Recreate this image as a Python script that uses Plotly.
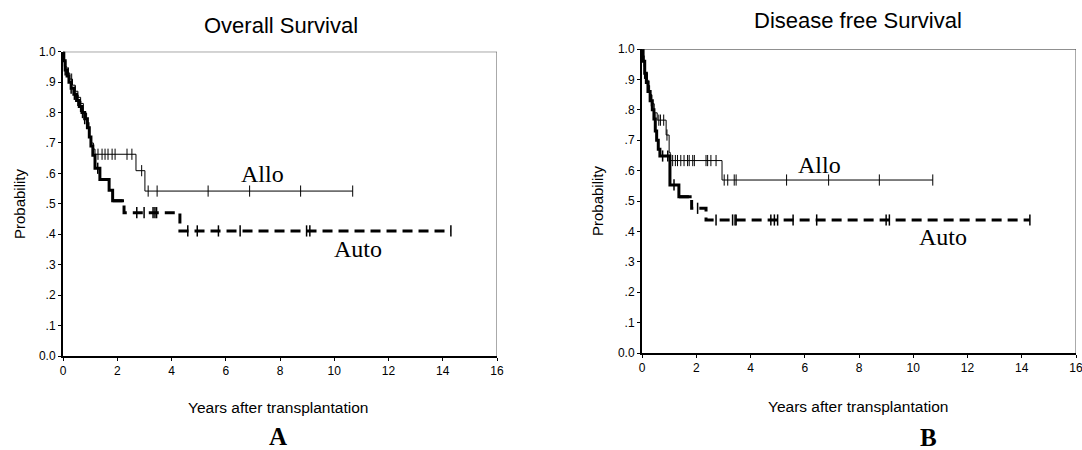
import plotly.graph_objects as go

# ---------------- data ----------------
# Panel A: Overall survival
a_allo_t = [0, 0.05, 0.10, 0.15, 0.25, 0.35, 0.45, 0.55, 0.65, 0.75, 0.85, 0.90, 0.95, 1.05, 1.12, 1.18, 2.69, 3.02, 10.68]
a_allo_s = [1.0, 0.97, 0.95, 0.93, 0.91, 0.89, 0.87, 0.85, 0.83, 0.80, 0.78, 0.75, 0.72, 0.70, 0.68, 0.663, 0.609, 0.542, 0.542]
a_allo_cens = [0.05, 0.20, 0.32, 0.45, 0.87, 1.29, 1.44, 1.55, 1.66, 1.81, 1.92, 2.36, 2.54, 2.90, 3.14, 3.47, 5.35, 6.88, 8.76, 10.68]

a_auto_t = [0, 0.03, 0.08, 0.15, 0.22, 0.30, 0.40, 0.50, 0.60, 0.70, 0.80, 0.90, 0.97, 1.03, 1.10, 1.18, 1.36, 1.70, 1.83, 2.25, 4.31, 14.30]
a_auto_s = [1.0, 0.97, 0.94, 0.92, 0.90, 0.88, 0.86, 0.84, 0.82, 0.80, 0.78, 0.75, 0.72, 0.69, 0.66, 0.617, 0.580, 0.545, 0.510, 0.471, 0.411, 0.411]
a_auto_cens = [0.08, 0.30, 0.42, 0.55, 0.65, 0.72, 0.80, 0.95, 1.28, 2.72, 2.99, 3.32, 3.39, 3.45, 4.60, 4.95, 5.73, 6.53, 8.98, 9.10, 14.30]

# Panel B: Disease free survival
b_allo_t = [0, 0.05, 0.12, 0.20, 0.28, 0.36, 0.45, 0.56, 0.89, 1.00, 1.04, 2.95, 10.72]
b_allo_s = [1.0, 0.96, 0.92, 0.88, 0.85, 0.82, 0.79, 0.766, 0.717, 0.66, 0.633, 0.569, 0.569]
b_allo_cens = [0.08, 0.25, 0.62, 0.68, 0.80, 0.92, 1.13, 1.23, 1.31, 1.43, 1.55, 1.68, 1.74, 1.87, 1.93,
               2.36, 2.42, 2.54, 2.73, 3.03, 3.16, 3.40, 3.47, 5.33, 6.88, 8.75, 10.72]

b_auto_t = [0, 0.04, 0.10, 0.16, 0.22, 0.30, 0.38, 0.44, 0.49, 0.54, 0.60, 0.66, 1.03, 1.36, 1.83, 2.36, 14.30]
b_auto_s = [1.0, 0.96, 0.92, 0.89, 0.86, 0.83, 0.80, 0.77, 0.73, 0.70, 0.67, 0.648, 0.553, 0.514, 0.476, 0.4375, 0.4375]
b_auto_cens = [0.10, 0.35, 0.47, 0.76, 0.95, 1.18, 2.05, 2.73, 3.34, 3.43, 3.47, 4.75, 4.88, 5.00, 5.57, 6.44, 9.00, 9.12, 14.30]

x_ticks = [0, 2, 4, 6, 8, 10, 12, 14, 16]
y_ticks = [0.0, 0.1, 0.2, 0.3, 0.4, 0.5, 0.6, 0.7, 0.8, 0.9, 1.0]
y_ticktext = ["0.0", ".1", ".2", ".3", ".4", ".5", ".6", ".7", ".8", ".9", "1.0"]

titles = ["Overall Survival", "Disease free Survival"]
panel_letters = ["A", "B"]
group_names = ["Allo", "Auto"]

# ---------------- styling / layout ----------------
W, H = 1082, 450
SANS = "Liberation Sans, Arial, sans-serif"
SERIF = "Liberation Serif, Times New Roman, serif"


def px(x):
    return x / W


def py(y):
    return 1 - y / H


def surv_at(t, times, s):
    v = s[0]
    for ti, si in zip(times, s):
        if ti <= t + 1e-9:
            v = si
    return v


panels = [
    dict(allo=(a_allo_t, a_allo_s, a_allo_cens), auto=(a_auto_t, a_auto_s, a_auto_cens),
         dom_x=(63, 497), dom_y=(51.7, 356), split=2.25,
         title_xy=(281, 25), ylab_xy=(19, 204), xlab_xy=(278, 407), letter_xy=(278, 436),
         allo_lab=(7.35, 0.598), auto_lab=(10.87, 0.352)),
    dict(allo=(b_allo_t, b_allo_s, b_allo_cens), auto=(b_auto_t, b_auto_s, b_auto_cens),
         dom_x=(642, 1076), dom_y=(49, 353), split=1.83,
         title_xy=(858, 21), ylab_xy=(597, 201), xlab_xy=(858, 406), letter_xy=(928, 437),
         allo_lab=(6.56, 0.618), auto_lab=(11.1, 0.383)),
]

fig = go.Figure()
annotations = []
shapes = []
layout_axes = {}

for i, p in enumerate(panels):
    n = "" if i == 0 else str(i + 1)
    xa, ya = "x" + n, "y" + n

    # Allo: thin solid
    t, s, c = p["allo"]
    fig.add_trace(go.Scatter(x=t, y=s, mode="lines", line=dict(color="black", width=1, shape="hv"),
                             xaxis=xa, yaxis=ya, showlegend=False, hoverinfo="skip"))
    fig.add_trace(go.Scatter(x=c, y=[surv_at(v, t, s) for v in c], mode="markers",
                             marker=dict(symbol="line-ns", size=8, line=dict(color="black", width=1)),
                             xaxis=xa, yaxis=ya, showlegend=False, cliponaxis=False, hoverinfo="skip"))

    # Auto: thick, solid early part then dashed
    t, s, c = p["auto"]
    k = t.index(p["split"])
    fig.add_trace(go.Scatter(x=t[:k + 1], y=s[:k] + [s[k - 1]], mode="lines",
                             line=dict(color="black", width=3, shape="hv"),
                             xaxis=xa, yaxis=ya, showlegend=False, hoverinfo="skip"))
    fig.add_trace(go.Scatter(x=t[k - 1:], y=s[k - 1:], mode="lines",
                             line=dict(color="black", width=3, shape="hv", dash="10px,6px"),
                             xaxis=xa, yaxis=ya, showlegend=False, hoverinfo="skip"))
    fig.add_trace(go.Scatter(x=c, y=[surv_at(v, t, s) for v in c], mode="markers",
                             marker=dict(symbol="line-ns", size=8, line=dict(color="black", width=1.5)),
                             xaxis=xa, yaxis=ya, showlegend=False, cliponaxis=False, hoverinfo="skip"))

    x0, x1 = p["dom_x"]
    y0, y1 = p["dom_y"]
    layout_axes["xaxis" + n] = dict(
        domain=[px(x0), px(x1)], range=[0, 16], anchor=ya, tickvals=x_ticks, ticks="outside",
        ticklen=3, tickwidth=1, tickcolor="black", showline=True, linewidth=2, linecolor="black",
        showgrid=False, zeroline=False, automargin=False, ticklabeloverflow="allow",
        tickfont=dict(family=SANS, size=12, color="black"))
    layout_axes["yaxis" + n] = dict(
        domain=[py(y1), py(y0)], range=[0, 1], anchor=xa, tickvals=y_ticks, ticktext=y_ticktext,
        ticks="outside", ticklen=3, tickwidth=1, tickcolor="black", showline=True, linewidth=2,
        linecolor="black", showgrid=False, zeroline=False, automargin=False,
        ticklabeloverflow="allow", tickfont=dict(family=SANS, size=12, color="black"))

    # top and right frame lines
    shapes.append(dict(type="line", xref=xa, yref=ya, x0=0, x1=16, y0=1, y1=1,
                       line=dict(color="#222", width=1)))
    shapes.append(dict(type="line", xref=xa, yref=ya, x0=16, x1=16, y0=0, y1=1,
                       line=dict(color="#555", width=1)))

    tx, ty = p["title_xy"]
    annotations.append(dict(text=titles[i], x=px(tx), y=py(ty), xref="paper", yref="paper",
                            showarrow=False, xanchor="center", yanchor="middle",
                            font=dict(family=SANS, size=22, color="black")))
    lx, ly = p["ylab_xy"]
    annotations.append(dict(text="Probability", x=px(lx), y=py(ly), xref="paper", yref="paper",
                            showarrow=False, textangle=-90, xanchor="center", yanchor="middle",
                            font=dict(family=SANS, size=15, color="black")))
    bx, by = p["xlab_xy"]
    annotations.append(dict(text="Years after transplantation", x=px(bx), y=py(by), xref="paper",
                            yref="paper", showarrow=False, xanchor="center", yanchor="middle",
                            font=dict(family=SANS, size=15.5, color="black")))
    ax_, ay_ = p["letter_xy"]
    annotations.append(dict(text="<b>" + panel_letters[i] + "</b>", x=px(ax_), y=py(ay_),
                            xref="paper", yref="paper", showarrow=False, xanchor="center",
                            yanchor="middle", font=dict(family=SERIF, size=25, color="black")))
    for name, key in zip(group_names, ["allo_lab", "auto_lab"]):
        gx, gy = p[key]
        annotations.append(dict(text=name, x=gx, y=gy, xref=xa, yref=ya, showarrow=False,
                                xanchor="center", yanchor="middle",
                                font=dict(family=SERIF, size=24, color="black")))

fig.update_layout(width=W, height=H, margin=dict(l=0, r=0, t=0, b=0, pad=0, autoexpand=False),
                  plot_bgcolor="white", paper_bgcolor="white",
                  annotations=annotations, shapes=shapes, **layout_axes)

fig.write_html("out.html", config={"displayModeBar": False},
               post_script="document.body.style.margin='0px';document.body.style.overflow='hidden';")
